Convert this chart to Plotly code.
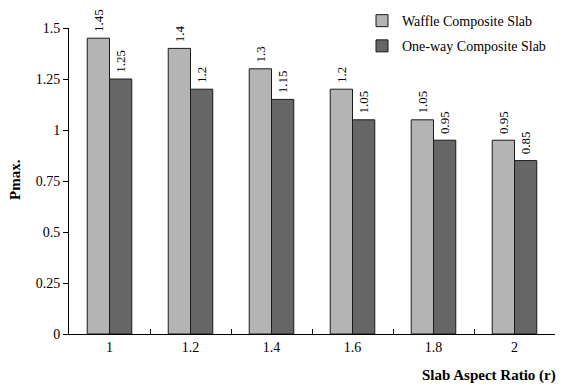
import plotly.graph_objects as go

categories = ["1", "1.2", "1.4", "1.6", "1.8", "2"]
waffle = [1.45, 1.4, 1.3, 1.2, 1.05, 0.95]
oneway = [1.25, 1.2, 1.15, 1.05, 0.95, 0.85]
series_names = ["Waffle Composite Slab", "One-way Composite Slab"]
y_ticks = [0, 0.25, 0.5, 0.75, 1, 1.25, 1.5]

FONT = "Liberation Serif"
W, H = 565, 385
OFF = 8  # page body offset
L, R, T, B = 69 - OFF, 18, 28 - OFF, 385 - (334 - OFF)
PW, PH = W - L - R, H - T - B

fig = go.Figure()
for name, vals, col, grp in [(series_names[0], waffle, "#B4B4B4", "a"),
                             (series_names[1], oneway, "#666666", "b")]:
    fig.add_trace(go.Bar(
        x=categories, y=vals, name=name, legendgroup=grp,
        marker=dict(color=col, line=dict(color="#1a1a1a", width=1)),
        texttemplate="\u00a0%{y}", textposition="outside", textangle=-90,
        textfont=dict(family=FONT, size=13, color="black"),
        constraintext="none", cliponaxis=False,
    ))

fig.update_layout(
    width=W, height=H,
    margin=dict(l=L, r=R, t=T, b=B, autoexpand=False),
    paper_bgcolor="white", plot_bgcolor="white",
    barmode="group", bargap=0.45, bargroupgap=0,
    font=dict(family=FONT, size=14, color="black"),
    showlegend=True,
    legend=dict(x=(362 - OFF - L) / PW, xanchor="left", y=1.075, yanchor="top",
                bgcolor="rgba(0,0,0,0)", font=dict(family=FONT, size=14),
                tracegroupgap=4, traceorder="grouped"),
    xaxis=dict(type="category", showline=True, linecolor="black", linewidth=1,
               ticks="inside", tickson="boundaries", ticklen=5, tickcolor="black",
               showgrid=False, tickfont=dict(family=FONT, size=14)),
    yaxis=dict(range=[0, 1.5], tickvals=y_ticks, showline=True, linecolor="black",
               linewidth=1, ticks="outside", ticklen=5, tickcolor="black",
               showgrid=False, zeroline=False, tickfont=dict(family=FONT, size=14)),
    annotations=[
        dict(text="<b>Slab Aspect Ratio (r)</b>", xref="paper", yref="paper",
             x=(420 - 69) / PW, y=-(375 - 334) / PH,
             xanchor="left", yanchor="middle", showarrow=False,
             font=dict(family=FONT, size=15)),
        dict(text="<b>Pmax.</b>", xref="paper", yref="paper",
             x=(15 - 69) / PW, y=(334 - 180) / PH, xanchor="center", yanchor="middle",
             textangle=-90, showarrow=False, font=dict(family=FONT, size=15)),
    ],
)

fig.write_html("out.html")
